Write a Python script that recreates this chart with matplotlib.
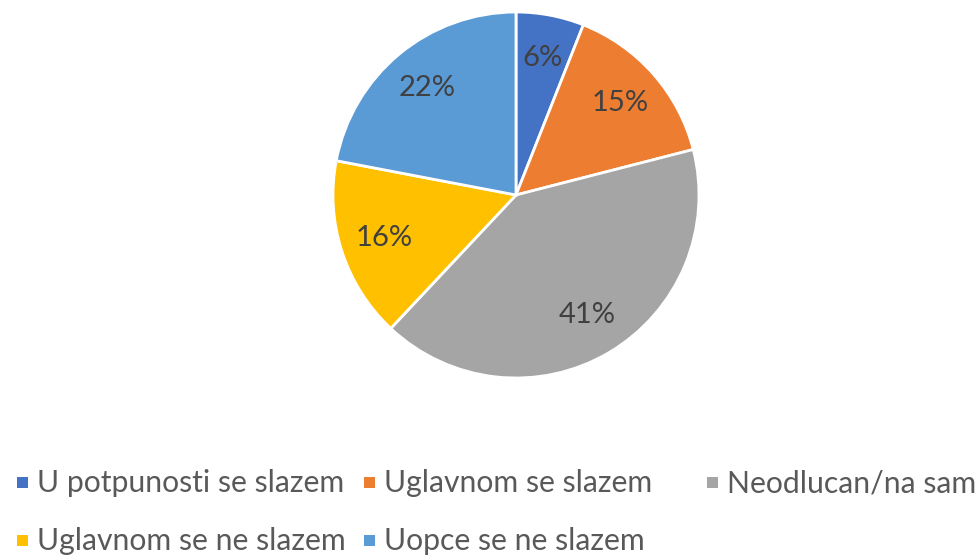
import matplotlib
matplotlib.use('Agg')
import matplotlib.pyplot as plt
from matplotlib.patches import Rectangle

labels = ['U potpunosti se slazem', 'Uglavnom se slazem', 'Neodlucan/na sam',
          'Uglavnom se ne slazem', 'Uopce se ne slazem']
values = [6, 15, 41, 16, 22]
colors = ['#4472C4', '#ED7D31', '#A5A5A5', '#FFC000', '#5B9BD5']

plt.rcParams['font.family'] = ['Lato', 'DejaVu Sans']

W, H = 977, 557
fig = plt.figure(figsize=(W / 100, H / 100), dpi=100)

# pie centre (516,195) px, radius 183 px
cx, cy, r = 516, 195, 183
ax = fig.add_axes([(cx - r) / W, 1 - (cy + r) / H, 2 * r / W, 2 * r / H])
wedges, _, autotexts = ax.pie(values, colors=colors, startangle=90, counterclock=False,
                              autopct='%1.0f%%', pctdistance=0.76,
                              wedgeprops=dict(edgecolor='white', linewidth=2),
                              textprops=dict(color='#404040', fontsize=21))
ax.set_xlim(-1, 1)
ax.set_ylim(-1, 1)
ax.set_aspect('equal')
ax.axis('off')

# legend, excel style: 3 columns, 2 rows
col_x = [17, 364, 707]
row_y = [483, 541]
for i, (lab, col) in enumerate(zip(labels, colors)):
    x = col_x[i % 3]
    y = row_y[i // 3]
    fig.patches.append(Rectangle((x / W, 1 - (y + 5) / H), 11 / W, 11 / H,
                                 transform=fig.transFigure, facecolor=col,
                                 edgecolor='none'))
    fig.text((x + 20) / W, 1 - y / H, lab, fontsize=21.7, color='#595959',
             va='center', ha='left')

fig.savefig('out.png', dpi=100)
